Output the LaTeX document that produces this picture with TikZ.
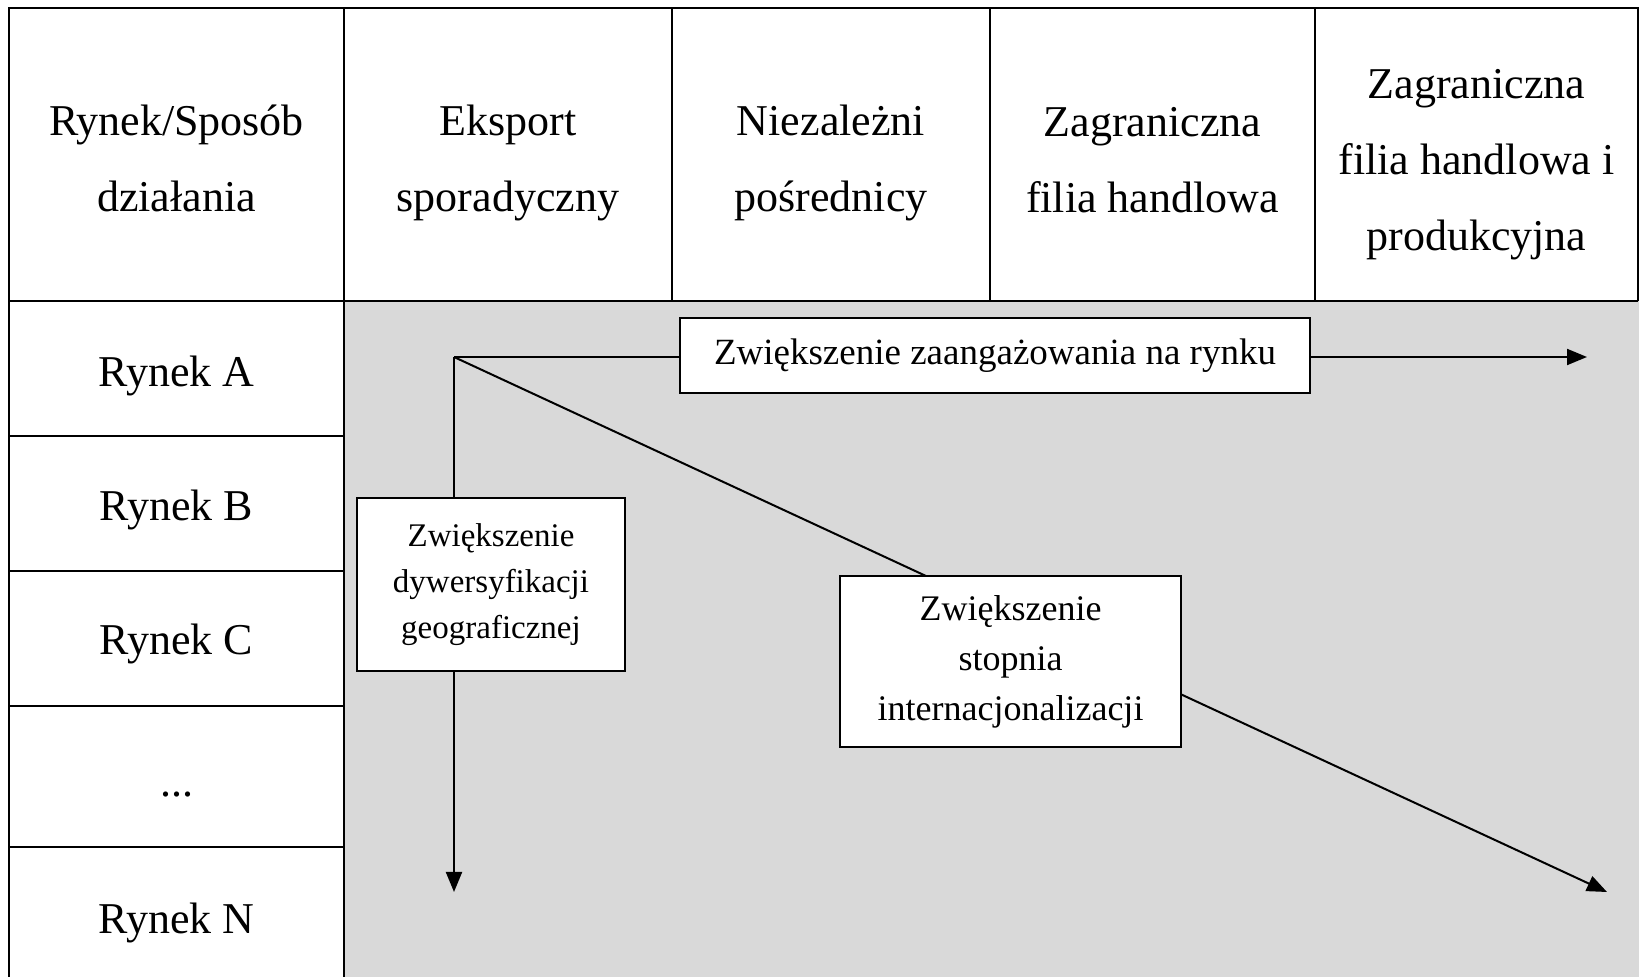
\documentclass[tikz,border=0pt]{standalone}
\usepackage{fontspec}
\setmainfont{Liberation Serif}
\usetikzlibrary{arrows.meta}
\newcommand{\cellfont}{\fontsize{22}{38}\selectfont}
\newcommand{\boxfont}{\fontsize{18.5}{23}\selectfont}
\newcommand{\gridwidth}{1.1pt}

\begin{document}
\begin{tikzpicture}[x=0.5pt,y=-0.5pt,>={Triangle[length=10pt,width=8pt]},
    cell/.style={font=\cellfont,align=center,inner sep=0pt},
    label box/.style={draw,line width=1pt,fill=white,align=center,inner sep=0pt}]

\useasboundingbox (0,0) rectangle (1639,977);

% grey body of the table
\fill[black!15] (344,301) rectangle (1639,977);

% table grid
\draw[line width=\gridwidth] (9,977) -- (9,8) -- (1638,8) -- (1638,301);
\draw[line width=\gridwidth] (9,301) -- (1638,301);
\foreach \x in {344,672,990,1315}
    \draw[line width=\gridwidth] (\x,8) -- (\x,301);
\draw[line width=\gridwidth] (344,301) -- (344,977);
\foreach \y in {436,571,706,847}
    \draw[line width=\gridwidth] (9,\y) -- (344,\y);

% header cells
\node[cell] (rs) at (176.5,158) {Rynek/Sposób\\działania};
\node[cell] (eks) at (508,163) {Eksport\\sporadyczny};
\node[cell] (nie) at (831,163) {Niezależni\\pośrednicy};
\node[cell] (zfh) at (1152.5,160) {Zagraniczna\\filia handlowa};
\node[cell] (zfp) at (1476.5,165) {Zagraniczna\\filia handlowa i\\produkcyjna};

% market rows
\node[cell] (ra) at (176.5,376) {Rynek A};
\node[cell] (rb) at (176.5,510) {Rynek B};
\node[cell] (rc) at (176.5,644) {Rynek C};
\node[cell] (rd) at (176.5,795) {...};
\node[cell] (rn) at (176.5,923) {Rynek N};

% arrow coordinates
\coordinate (o) at (454,357);
\coordinate (endH) at (1587,357);
\coordinate (endV) at (454,892);
\coordinate (endD) at (1607,892);

\draw[line width=1pt,->] (o) -- (endH);
\draw[line width=1pt,->] (o) -- (endV);
\draw[line width=1pt,->] (o) -- (endD);

% labels on the arrows
\node[label box,minimum width=315pt,minimum height=37.5pt,font=\boxfont]
    (zaang) at (995,355.5) {Zwiększenie zaangażowania na rynku};
\node[label box,minimum width=134pt,minimum height=86.5pt,
    font=\fontsize{16.5}{23}\selectfont]
    (dyw) at (491,585) {Zwiększenie\\dywersyfikacji\\geograficznej};
\node[label box,minimum width=170.5pt,minimum height=85.5pt,
    font=\fontsize{18}{25}\selectfont]
    (stop) at (1010.5,661.5) {Zwiększenie\\stopnia\\internacjonalizacji};

\end{tikzpicture}
\end{document}
